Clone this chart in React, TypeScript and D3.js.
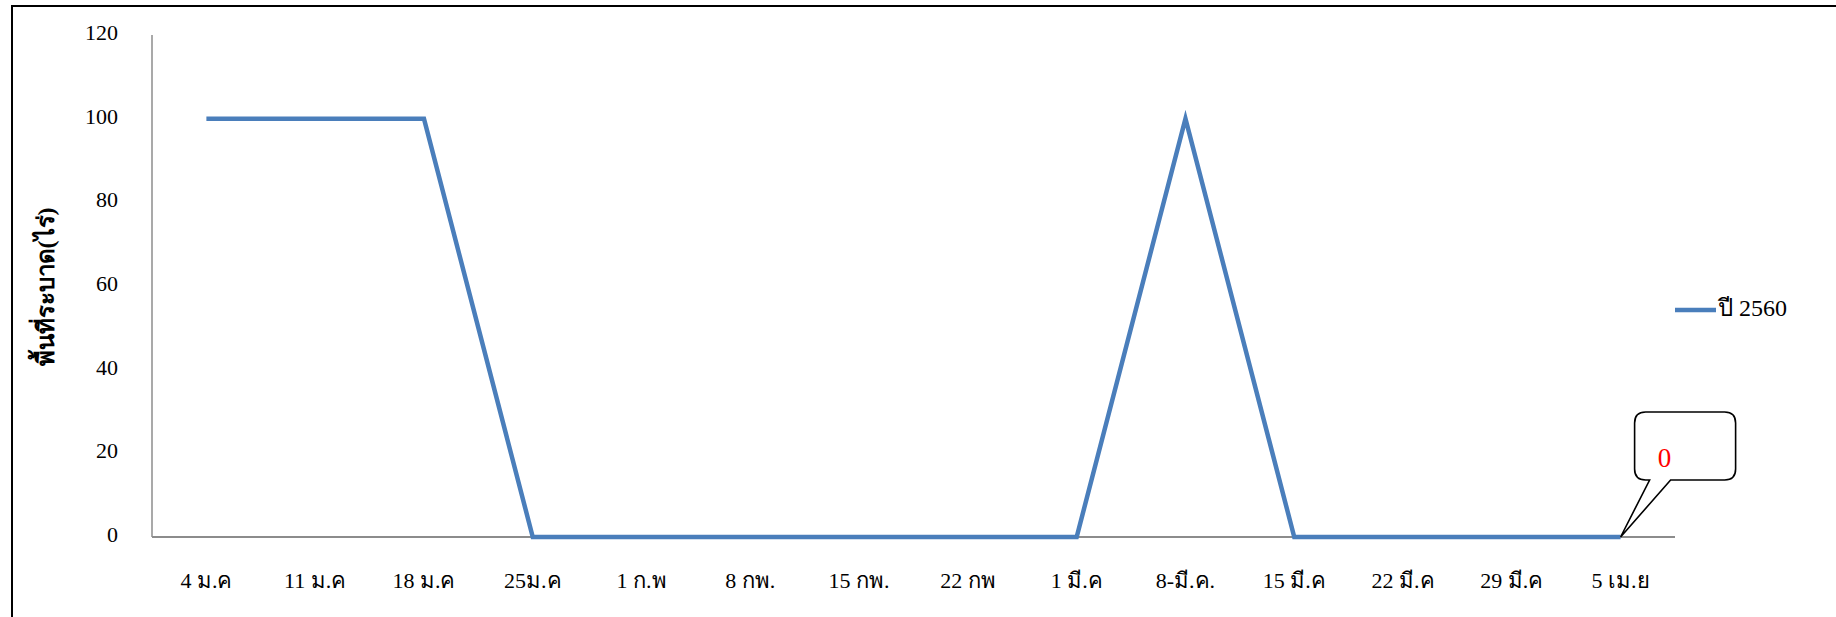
import React from "react";
import * as d3 from "d3";

const categories = ["4 ม.ค", "11 ม.ค", "18 ม.ค", "25ม.ค", "1 ก.พ", "8 กพ.", "15 กพ.", "22 กพ", "1 มี.ค", "8-มี.ค.", "15 มี.ค", "22 มี.ค", "29 มี.ค", "5 เม.ย"];
const series2560 = [100, 100, 100, 0, 0, 0, 0, 0, 0, 100, 0, 0, 0, 0];
const yTicks = [0, 20, 40, 60, 80, 100, 120];
const seriesName = "ปี 2560";
const yTitle = "พื้นที่ระบาด(ไร่)";
const calloutValue = "0";

const W = 1836, H = 617;
const plot = { left: 152, right: 1675, top: 35, bottom: 537 };
const LINE = "#4A7EBB";
const FONT = "'Liberation Serif', 'Times New Roman', serif";

export default function App() {
  const x = d3.scaleBand<string>().domain(categories).range([plot.left, plot.right]);
  const y = d3.scaleLinear().domain([0, 120]).range([plot.bottom, plot.top]);
  const cx = (c: string) => (x(c) as number) + x.bandwidth() / 2;
  const line = d3.line<number>().x((_, i) => cx(categories[i])).y((d) => y(d));
  const lastI = categories.length - 1;
  const px = cx(categories[lastI]);
  const py = y(series2560[lastI]);
  // callout box
  const bx = px + 14, by = py - 125, bw = 101, bh = 68, r = 11;
  const t1 = bx + 15, t2 = bx + 36;
  const callout = `M${bx + r},${by} H${bx + bw - r} Q${bx + bw},${by} ${bx + bw},${by + r} V${by + bh - r} Q${bx + bw},${by + bh} ${bx + bw - r},${by + bh} H${t2} L${px},${py} L${t1},${by + bh} H${bx + r} Q${bx},${by + bh} ${bx},${by + bh - r} V${by + r} Q${bx},${by} ${bx + r},${by} Z`;

  return (
    <svg width={W} height={H} style={{ position: "absolute", left: 0, top: 0, background: "#fff" }}>
      <rect x={12} y={6} width={W} height={H} fill="#fff" stroke="#000" strokeWidth={2} />
      {/* axes */}
      <line x1={plot.left} x2={plot.left} y1={plot.top} y2={plot.bottom} stroke="#8c8c8c" strokeWidth={1.5} />
      <line x1={plot.left} x2={plot.right} y1={plot.bottom} y2={plot.bottom} stroke="#8c8c8c" strokeWidth={2} />
      {yTicks.map((t) => (
        <text key={t} x={118} y={y(t)} textAnchor="end" dominantBaseline="middle" fontFamily={FONT} fontSize={22} fill="#000">
          {t}
        </text>
      ))}
      {categories.map((c) => (
        <text key={c} x={cx(c)} y={583} textAnchor="middle" dominantBaseline="middle" fontFamily={FONT} fontSize={22} fill="#000">
          {c}
        </text>
      ))}
      <text
        transform={`translate(48,287) rotate(-90)`}
        textAnchor="middle"
        dominantBaseline="middle"
        fontFamily={FONT}
        fontWeight="bold"
        fontSize={24}
        fill="#000"
      >
        {yTitle}
      </text>
      <path d={line(series2560) ?? ""} fill="none" stroke={LINE} strokeWidth={4.5} strokeLinejoin="miter" />
      {/* legend */}
      <line x1={1675} x2={1716} y1={310} y2={310} stroke={LINE} strokeWidth={4.5} />
      <text x={1718} y={310} dominantBaseline="middle" fontFamily={FONT} fontSize={24} fill="#000">
        {seriesName}
      </text>
      {/* callout */}
      <path d={callout} fill="#fff" stroke="#000" strokeWidth={1.6} />
      <text x={bx + 30} y={by + 49} textAnchor="middle" dominantBaseline="middle" fontFamily={FONT} fontSize={27} fill="#ff0000">
        {calloutValue}
      </text>
    </svg>
  );
}
